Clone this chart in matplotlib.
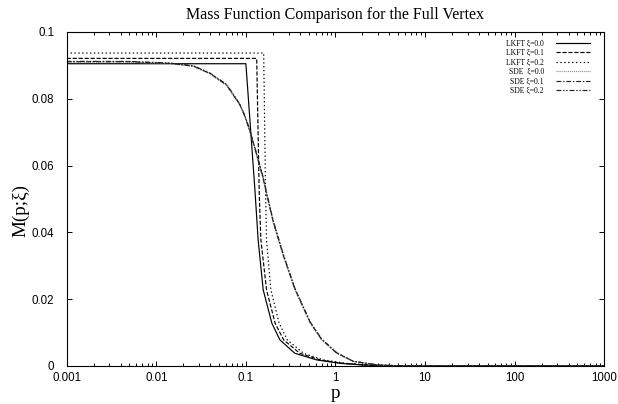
import matplotlib
matplotlib.use("Agg")
import matplotlib.pyplot as plt
from matplotlib.ticker import FixedLocator, NullFormatter

# ---- data ----
lkft0_p = [0.001, 0.1, 0.126, 0.137, 0.156, 0.195, 0.24, 0.352, 0.62, 1.12, 2.0, 5.0, 1000.0]
lkft0_m = [0.0905, 0.0905, 0.0529, 0.0378, 0.0228, 0.0128, 0.0078, 0.0038, 0.0018, 0.0008, 0.0003, 0.0, 0.0]

lkft1_p = [0.001, 0.132, 0.141, 0.147, 0.170, 0.212, 0.264, 0.40, 0.68, 1.2, 2.2, 5.0, 1000.0]
lkft1_m = [0.0921, 0.0921, 0.0514, 0.0378, 0.0228, 0.0128, 0.0078, 0.0038, 0.0018, 0.0008, 0.0003, 0.0, 0.0]

lkft2_p = [0.001, 0.158, 0.166, 0.170, 0.19, 0.235, 0.29, 0.44, 0.74, 1.3, 2.4, 5.0, 1000.0]
lkft2_m = [0.0937, 0.0937, 0.0514, 0.0378, 0.0228, 0.0128, 0.0078, 0.0038, 0.0018, 0.0008, 0.0003, 0.0, 0.0]

sde_p = [0.001, 0.005, 0.0142, 0.0259, 0.0398, 0.0611, 0.0862, 0.098, 0.111, 0.126, 0.156,
         0.17, 0.202, 0.262, 0.352, 0.522, 0.70, 1.03, 1.58, 3.0, 6.0, 1000.0]
sde0_m = [0.0910, 0.0910, 0.0905, 0.0897, 0.0874, 0.0839, 0.0779, 0.0744, 0.0700, 0.0649, 0.0559,
          0.0514, 0.0429, 0.0328, 0.0228, 0.0128, 0.0078, 0.0038, 0.0013, 0.0003, 0.0, 0.0]
sde1_m = [0.0911, 0.0911, 0.0906, 0.0898, 0.0876, 0.0841, 0.0781, 0.0746, 0.0703, 0.0652, 0.0562,
          0.0517, 0.0432, 0.0331, 0.0231, 0.0130, 0.0080, 0.0039, 0.0014, 0.0003, 0.0, 0.0]
sde2_m = [0.0912, 0.0912, 0.0907, 0.0899, 0.0877, 0.0843, 0.0783, 0.0748, 0.0705, 0.0654, 0.0565,
          0.0520, 0.0435, 0.0334, 0.0233, 0.0132, 0.0081, 0.0040, 0.0014, 0.0003, 0.0, 0.0]

labels = ["LKFT \u03be=0.0", "LKFT \u03be=0.1", "LKFT \u03be=0.2",
          "SDE  \u03be=0.0", "SDE \u03be=0.1", "SDE \u03be=0.2"]

xticks = [0.001, 0.01, 0.1, 1, 10, 100, 1000]
xtick_labels = ["0.001", "0.01", "0.1", "1", "10", "100", "1000"]
yticks = [0, 0.02, 0.04, 0.06, 0.08, 0.1]
ytick_labels = ["0", "0.02", "0.04", "0.06", "0.08", "0.1"]

# ---- figure ----
plt.rcParams['lines.scale_dashes'] = False
fig = plt.figure(figsize=(6.18, 4.04), dpi=100)
ax = fig.add_axes([0.1079, 0.0941, 0.8699, 0.8267])

lw = 0.85
ax.plot(lkft0_p, lkft0_m, color='black', lw=lw, linestyle='-', label=labels[0])
ax.plot(lkft1_p, lkft1_m, color='black', lw=lw, linestyle=(0, (3, 1.3)), label=labels[1])
ax.plot(lkft2_p, lkft2_m, color='black', lw=lw, linestyle=(0, (1, 1.8)), label=labels[2])
ax.plot(sde_p, sde0_m, color='#888888', lw=lw, linestyle=(0, (0.7, 0.7)), label=labels[3])
ax.plot(sde_p, sde1_m, color='#222222', lw=lw, linestyle=(0, (3.5, 1.3, 1, 1.3)), label=labels[4])
ax.plot(sde_p, sde2_m, color='#222222', lw=lw, linestyle=(0, (3.5, 1.3, 1, 1.3, 1, 1.3)), label=labels[5])

ax.set_xscale('log')
ax.set_xlim(0.001, 1000)
ax.set_ylim(0, 0.1)

ax.xaxis.set_major_locator(FixedLocator(xticks))
ax.set_xticklabels(xtick_labels)
minors = [m * 10.0 ** e for e in range(-3, 3) for m in range(2, 10)]
ax.xaxis.set_minor_locator(FixedLocator(minors))
ax.xaxis.set_minor_formatter(NullFormatter())
ax.set_yticks(yticks)
ax.set_yticklabels(ytick_labels)

tickfont = 'Liberation Sans'
ax.tick_params(which='both', direction='in', top=True, right=True, width=0.7)
ax.tick_params(which='major', length=3.6)
ax.tick_params(which='minor', length=2.0)
ax.tick_params(axis='x', pad=4, labelsize=8.3)
ax.tick_params(axis='y', pad=9, labelsize=8.3)
for t in ax.get_xticklabels() + ax.get_yticklabels():
    t.set_fontfamily(tickfont)
for s in ax.spines.values():
    s.set_linewidth(0.8)

serif = 'Liberation Serif'
ax.set_title("Mass Function Comparison for the Full Vertex", fontsize=11.5,
             fontfamily=serif, pad=9)
ax.set_xlabel("p", fontsize=13.8, fontfamily=serif, labelpad=1)
ax.set_ylabel("M(p;\u03be)", fontsize=13.8, fontfamily=[serif, 'DejaVu Serif'])
ax.yaxis.set_label_coords(-0.070, 0.467)

leg = ax.legend(loc='upper right', bbox_to_anchor=(0.9734, 0.9775), frameon=False,
                markerfirst=False, handlelength=4.45, handletextpad=1.57,
                labelspacing=0.2, borderpad=0, borderaxespad=0,
                prop={'family': [serif, 'DejaVu Serif'], 'size': 5.5})

fig.savefig("out.png", dpi=100)
